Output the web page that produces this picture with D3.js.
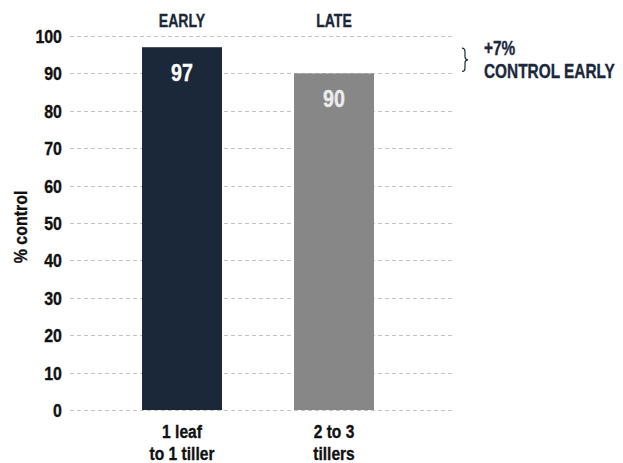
<!DOCTYPE html>
<html>
<head>
<meta charset="utf-8">
<script src="https://cdn.jsdelivr.net/npm/d3@7"></script>
<style>
  body { margin: 0; background: #fff; }
  text { font-family: "Liberation Sans", Arial, sans-serif; font-weight: bold; }
</style>
</head>
<body>
<div id="chart"></div>
<script>
var categories = ["1 leaf|to 1 tiller", "2 to 3|tillers"];
var timings = ["EARLY", "LATE"];
var values = [97, 90];
var barColors = ["#1a283a", "#878787"];
var labelColors = ["#ffffff", "#ececec"];
var yTicks = [0, 10, 20, 30, 40, 50, 60, 70, 80, 90, 100];
var note = ["+7%", "CONTROL EARLY"];

var width = 623, height = 463;

var svg = d3.select("#chart").append("svg")
    .attr("width", width)
    .attr("height", height);

var y = d3.scaleLinear().domain([0, 100]).range([410, 36]);
var x = d3.scaleBand().domain(categories).range([106, 410])
    .paddingInner(0.4737).paddingOuter(0.237);

// condensed look: squeeze text horizontally around its anchor
function label(parent, px, py, str, size, sx, anchor, fill) {
    var g = parent.append("g")
        .attr("transform", "translate(" + px + "," + py + ") scale(" + sx + ",1)");
    return g.append("text")
        .attr("text-anchor", anchor)
        .attr("font-size", size)
        .attr("fill", fill)
        .attr("stroke", fill)
        .attr("stroke-width", 0.35)
        .text(str);
}

// gridlines
svg.append("g").selectAll("line")
    .data(yTicks)
    .enter().append("line")
    .attr("x1", 70).attr("x2", 455)
    .attr("y1", function (d) { return Math.round(y(d)) + 0.5; })
    .attr("y2", function (d) { return Math.round(y(d)) + 0.5; })
    .attr("stroke", "#c4c4c4")
    .attr("stroke-width", 1)
    .attr("stroke-dasharray", "4,3");

// y tick labels
var tg = svg.append("g");
yTicks.forEach(function (d) {
    label(tg, 62, y(d) + 7, d, 19, 0.84, "end", "#111");
});

// y axis title
svg.append("text")
    .attr("transform", "translate(27,227) rotate(-90) scale(0.84,1)")
    .attr("text-anchor", "middle")
    .attr("font-size", 19)
    .attr("fill", "#111")
    .attr("stroke", "#111")
    .attr("stroke-width", 0.35)
    .text("% control");

// bars
svg.append("g").selectAll("rect")
    .data(values)
    .enter().append("rect")
    .attr("x", function (d, i) { return x(categories[i]); })
    .attr("y", function (d) { return y(d); })
    .attr("width", x.bandwidth())
    .attr("height", function (d) { return y(0) - y(d); })
    .attr("fill", function (d, i) { return barColors[i]; });

// value labels
var vg = svg.append("g");
values.forEach(function (d, i) {
    label(vg, x(categories[i]) + x.bandwidth() / 2, y(d) + 34, d, 24, 0.82, "middle", labelColors[i]);
});

// timing labels on top
var hg = svg.append("g");
timings.forEach(function (d, i) {
    label(hg, x(categories[i]) + x.bandwidth() / 2, 27, d, 19, 0.74, "middle", "#1a283a");
});

// category labels
var cg = svg.append("g");
categories.forEach(function (d) {
    var cx = x(d) + x.bandwidth() / 2;
    d.split("|").forEach(function (line, i) {
        label(cg, cx, 438 + i * 22, line, 19, 0.82, "middle", "#111");
    });
});

// brace annotation between 97 and 90
var by1 = y(values[0]) + 1, by2 = y(values[1]) - 2, bx = 462;
var bm = (by1 + by2) / 2;
svg.append("path")
    .attr("d", "M" + bx + "," + by1 +
        " Q" + (bx + 3) + "," + by1 + " " + (bx + 3) + "," + (by1 + 4) +
        " L" + (bx + 3) + "," + (bm - 3) +
        " Q" + (bx + 3) + "," + bm + " " + (bx + 6) + "," + bm +
        " Q" + (bx + 3) + "," + bm + " " + (bx + 3) + "," + (bm + 3) +
        " L" + (bx + 3) + "," + (by2 - 4) +
        " Q" + (bx + 3) + "," + by2 + " " + bx + "," + by2)
    .attr("fill", "none")
    .attr("stroke", "#1a283a")
    .attr("stroke-width", 1.2);

var ng = svg.append("g");
note.forEach(function (d, i) {
    label(ng, 484, 55 + i * 23, d, 20, 0.77, "start", "#1a283a");
});
</script>
</body>
</html>
